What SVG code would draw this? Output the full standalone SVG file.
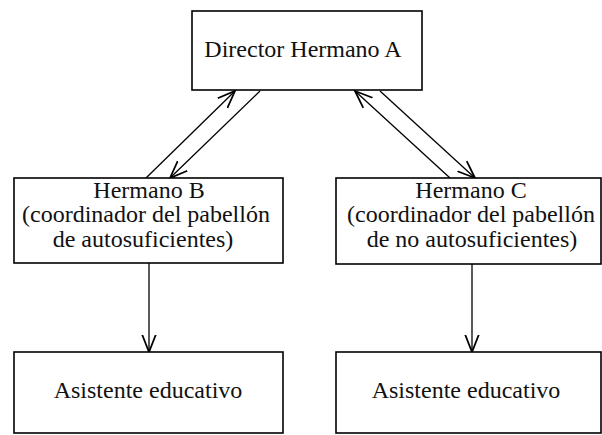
<svg xmlns="http://www.w3.org/2000/svg" width="602" height="435" viewBox="0 0 602 435">
<style>
.box{fill:#fff;stroke:#000;stroke-width:1.6}
.t{font-family:"Liberation Serif","Times New Roman",serif;font-size:24px;fill:#111;text-anchor:middle}
.c{fill:none;stroke:#000;stroke-width:1.3}
</style>
<defs>
<marker id="ah" markerUnits="userSpaceOnUse" markerWidth="20" markerHeight="20" viewBox="-14 -8 16 16" refX="0" refY="0" orient="auto">
<path d="M-14,-5.5 L0,0 L-14,5.5" fill="none" stroke="#000" stroke-width="1.4"/>
</marker>
</defs>
<g id="connectors">
<line class="c" x1="146" y1="178" x2="235" y2="91" marker-end="url(#ah)"/>
<line class="c" x1="260" y1="91" x2="170" y2="178" marker-end="url(#ah)"/>
<line class="c" x1="450" y1="178" x2="355" y2="91" marker-end="url(#ah)"/>
<line class="c" x1="380" y1="91" x2="475" y2="178" marker-end="url(#ah)"/>
<line class="c" x1="149" y1="263" x2="149" y2="352" marker-end="url(#ah)"/>
<line class="c" x1="472" y1="264" x2="472" y2="352" marker-end="url(#ah)"/>
</g>
<g id="director">
<rect class="box" x="192" y="11" width="230" height="79"/>
<text class="t" x="303" y="57">Director Hermano A</text>
</g>
<g id="hermanoB">
<rect class="box" x="14" y="178" width="269" height="85"/>
<text class="t" x="149" y="198">Hermano B</text>
<text class="t" x="146" y="222">(coordinador del pabellón</text>
<text class="t" x="143" y="247">de autosuficientes)</text>
</g>
<g id="hermanoC">
<rect class="box" x="336" y="178" width="265" height="86"/>
<text class="t" x="471" y="198">Hermano C</text>
<text class="t" x="471" y="222">(coordinador del pabellón</text>
<text class="t" x="472" y="247">de no autosuficientes)</text>
</g>
<g id="asistenteB">
<rect class="box" x="14" y="352" width="269" height="81"/>
<text class="t" x="148" y="398">Asistente educativo</text>
</g>
<g id="asistenteC">
<rect class="box" x="336" y="352" width="265" height="81"/>
<text class="t" x="466" y="398">Asistente educativo</text>
</g>
</svg>
